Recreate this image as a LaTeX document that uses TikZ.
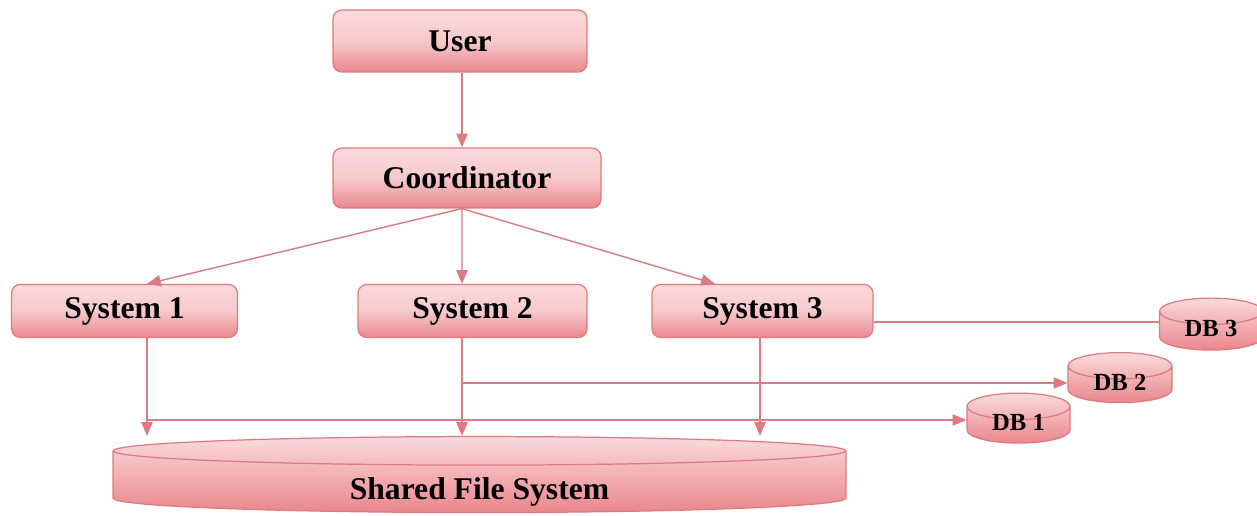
\documentclass[tikz,border=0pt]{standalone}
\usepackage{fontspec}
\setmainfont{Liberation Serif}
\usepackage{tikz}
\usetikzlibrary{arrows}
\usetikzlibrary{shapes.geometric}
\usetikzlibrary{calc}
\definecolor{pinklt}{HTML}{FADADC}
\definecolor{pinkdk}{HTML}{EA868C}
\definecolor{pinkln}{HTML}{DD7A82}
\tikzset{l/.style={font=\fontsize{18}{18}\selectfont\bfseries}}
\tikzset{m/.style={font=\fontsize{14}{14}\selectfont\bfseries}}
\tikzset{
box/.style={l, draw=pinkln, line width=0.7pt, rounded corners=5pt, top color=pinklt, bottom color=pinkdk, middle color=pinklt!80!pinkdk, inner sep=0pt},
disk/.style={cylinder, shape border rotate=90, draw=pinkln, line width=0.7pt, top color=pinklt, bottom color=pinkdk, inner sep=0pt},
link/.style={draw=pinkln, line width=0.8pt},
arr/.style={link, -triangle 45}
}
\newcommand{\low}[2]{\raisebox{-#1}[0pt][0pt]{#2}}

\begin{document}
\begin{tikzpicture}[x=0.02cm, y=-0.02cm]
    \useasboundingbox (0,0) rectangle (1257,516);
    \node[box, minimum width=5.08cm, minimum height=1.24cm] (user) at (460,41) {User};
    \node[box, minimum width=5.36cm, minimum height=1.2cm] (coord) at (467,178) {Coordinator};
    \node[box, minimum width=4.52cm, minimum height=1.06cm] (sys1) at (124.5,311) {System 1};
    \node[box, minimum width=4.58cm, minimum height=1.06cm] (sys2) at (472.5,311) {System 2};
    \node[box, minimum width=4.42cm, minimum height=1.06cm] (sys3) at (762.5,311) {System 3};
    \node[disk, l, minimum width=14.66cm, minimum height=1.52cm, aspect=0.11] (sfs) at (479.5,482) {\low{0.36cm}{Shared File System}};
    \node[disk, m, minimum width=2.06cm, minimum height=1cm, aspect=0.5] (db1) at (1018.5,425) {\low{0.12cm}{DB 1}};
    \node[disk, m, minimum width=2.08cm, minimum height=1cm, aspect=0.5] (db2) at (1120,384.5) {\low{0.12cm}{DB 2}};
    \node[disk, m, minimum width=2.06cm, minimum height=1.04cm, aspect=0.5] (db3) at (1211,331) {\low{0.12cm}{DB 3}};
    \coordinate (c0) at ([xshift=-0.1cm]coord.south);
    \draw[arr] ([xshift=0.04cm]user.south) -- ([xshift=0.04cm]user.south |- coord.north);
    \draw[arr] (c0) -- ([xshift=0.45cm]sys1.north);
    \draw[arr] (c0) -- ([xshift=-0.21cm]sys2.north);
    \draw[arr] (c0) -- ([xshift=-0.95cm]sys3.north);
    % drops to the shared file system
    \coordinate (j1) at ([xshift=0.45cm]sys1.south |- 0,420);
    \coordinate (j2) at ([xshift=-0.21cm]sys2.south |- 0,383);
    \draw[arr] ([xshift=0.45cm]sys1.south) -- ([xshift=0.45cm]sys1.south |- sfs.north);
    \draw[arr] ([xshift=-0.21cm]sys2.south) -- ([xshift=-0.21cm]sys2.south |- sfs.north);
    \draw[arr] ([xshift=-0.05cm]sys3.south) -- ([xshift=-0.05cm]sys3.south |- sfs.north);
    % links to the databases
    \draw[arr] (j1) -- (j1 -| db1.west);
    \draw[arr] (j2) -- (j2 -| db2.west);
    \draw[link] (sys3.east |- 0,322) -- (db3.west |- 0,322);
\end{tikzpicture}
\end{document}
